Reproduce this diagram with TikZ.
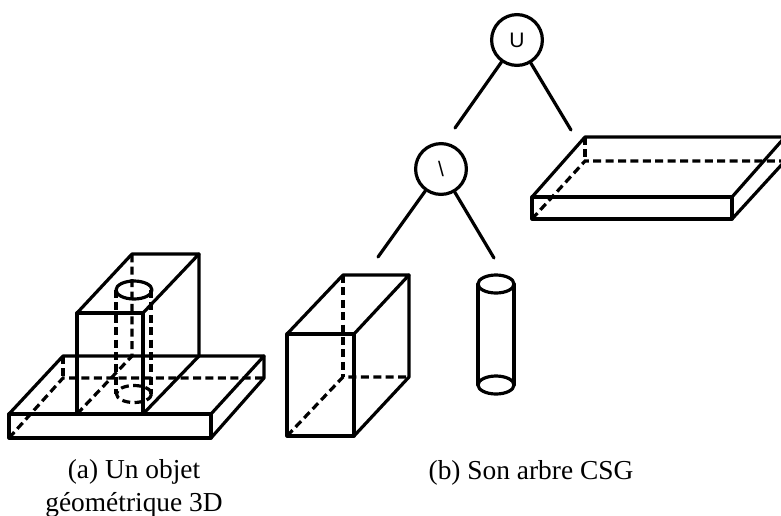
\documentclass[tikz,border=0pt]{standalone}
\usepackage{fontspec}
\setmainfont{Liberation Serif}
\setsansfont{Liberation Sans}
\usetikzlibrary{calc,positioning}
\tikzset{
  edge/.style = {line width = 1.6pt, line cap = round, line join = round},
  hidden/.style = {line width = 1.6pt, dash pattern = on 4pt off 2.2pt},
  opnode/.style = {draw, circle, line width = 1.6pt, minimum size = 25.4pt, inner sep = 0pt,
    font = \sffamily\fontsize{10.5}{12}\selectfont},
  capnode/.style = {align = center, font = \fontsize{13.7}{16.5}\selectfont},
}

\begin{document}
\begin{tikzpicture}[x = 0.5pt, y = -0.5pt]
    \useasboundingbox (0,0) rectangle (781,515);
    \clip (0,0) rectangle (781,515);

    % tree
    \node[opnode] (u) at (517,40) {U};
    \node[opnode] (d) at ($(u) + (-76,129)$) {\textbackslash};
    \coordinate (ul) at (455,128);
    \coordinate (ur) at (571,130);
    \coordinate (dl) at (378,257);
    \coordinate (dr) at (494,258);
    \draw[edge] (u) -- (ul);
    \draw[edge] (u) -- (ur);
    \draw[edge] (d) -- (dl);
    \draw[edge] (d) -- (dr);

    % plate on the right
    \draw[hidden] (532,219) -- (585,161) -- (785,161);
    \draw[hidden] (585,137) -- (585,161);
    \draw[edge] (532,197) rectangle (732,219);
    \draw[edge] (532,197) -- (585,137) -- (785,137) -- (732,197);
    \draw[edge] (732,219) -- (785,161);

    % box
    \draw[hidden] (287,436) -- (343,377) -- (409,377);
    \draw[hidden] (343,275) -- (343,377);
    \draw[edge] (287,334) rectangle (354,436);
    \draw[edge] (287,334) -- (343,275) -- (409,275) -- (354,334);
    \draw[edge] (409,275) -- (409,377) -- (354,436);

    % cylinder
    \draw[edge] (496,284) ellipse (18 and 9);
    \draw[edge] (496,385) ellipse (18 and 9);
    \draw[edge] (478,284) -- (478,385);
    \draw[edge] (514,284) -- (514,385);

    % object, hidden lines first
    \draw[hidden] (9,438) -- (63,378) -- (264,378);
    \draw[hidden] (63,356) -- (63,378);
    \draw[hidden] (77,414) -- (132,356) -- (132,254);
    \draw[hidden] (116,290) -- (116,394);
    \draw[hidden] (151,290) -- (151,394);
    \draw[hidden] (134,394) ellipse (17.5 and 8.5);
    % object, plate
    \draw[edge] (9,414) rectangle (211,438);
    \draw[edge] (9,414) -- (63,356) -- (264,356) -- (211,414);
    \draw[edge] (211,438) -- (264,378) -- (264,356);
    % object, block
    \draw[edge] (77,414) -- (77,313) -- (143,313) -- (143,414);
    \draw[edge] (77,313) -- (132,254) -- (199,254) -- (143,313);
    \draw[edge] (199,254) -- (199,356) -- (143,414);
    \draw[edge] (134,290) ellipse (18 and 9);

    % captions
    \node[capnode] (capa) at (134,488) {(a) Un objet\\géométrique 3D};
    \node[capnode] (capb) at (531,473) {(b) Son arbre CSG};
\end{tikzpicture}
\end{document}
